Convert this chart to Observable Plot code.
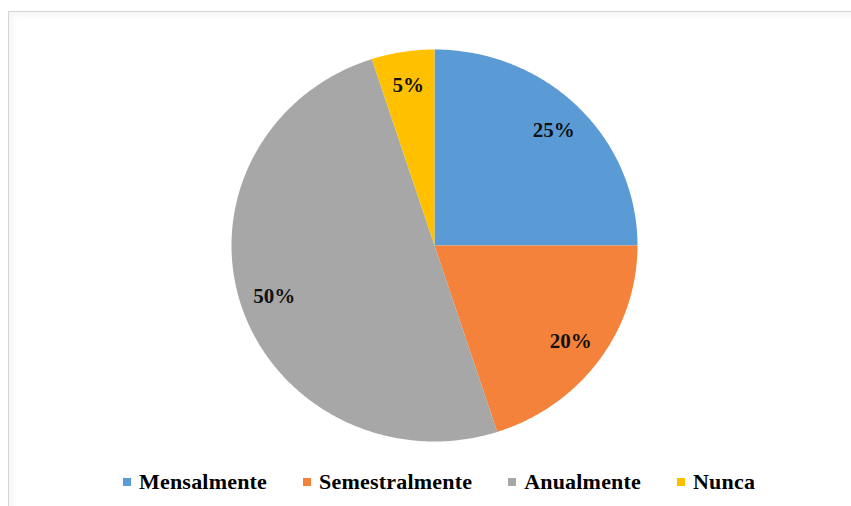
<!DOCTYPE html>
<html><head><meta charset="utf-8">
<script src="https://cdn.jsdelivr.net/npm/d3@7"></script>
<script src="https://cdn.jsdelivr.net/npm/@observablehq/plot@0.6"></script>
<style>
html,body{margin:0;padding:0;background:#fff;}
#wrap{position:relative;width:851px;height:506px;overflow:hidden;background:#fff;}
#frame{position:absolute;left:8px;top:11px;right:-20px;bottom:-20px;border-left:1px solid #d4d4d4;border-top:1px solid #d4d4d4;box-shadow:inset 4px 4px 6px rgba(0,0,0,0.04);}
#chart{position:absolute;left:0;top:0;}
#legend{position:absolute;left:123px;top:465px;}
#legend .lg-swatch{margin-right:36px !important;}
#legend .lg-swatch > svg{margin-right:8px !important;}
#legend, #legend *{font-family:"Liberation Serif","Times New Roman",serif !important;font-size:22px !important;font-weight:bold !important;color:#000 !important;letter-spacing:0.2px;}
</style></head><body>
<div id="wrap"><div id="frame"></div><div id="chart"></div><div id="legend"></div></div>
<script>
const categories = ["Mensalmente","Semestralmente","Anualmente","Nunca"];
const percentages = [25,20,50,5];
const colors = ["#5B9BD5","#F4823A","#A7A7A7","#FFC000"];

const rows = categories.map((c,i)=>({cat:c, value:percentages[i]}));
const arcs = d3.pie().sort(null).value(d=>d.value)(rows);

const pts = [];
arcs.forEach(a=>{
  const cat = a.data.cat;
  pts.push({cat, x:0, y:0});
  const n = Math.max(2, Math.ceil((a.endAngle-a.startAngle)/(Math.PI/360)));
  for(let k=0;k<=n;k++){
    const t = a.startAngle + (a.endAngle-a.startAngle)*k/n;
    pts.push({cat, x:Math.sin(t), y:-Math.cos(t)});
  }
  pts.push({cat, x:0, y:0});
});
const labelR = 0.83;
const labels = arcs.map(a=>{
  const m=(a.startAngle+a.endAngle)/2;
  return {cat:a.data.cat, x:labelR*Math.sin(m), y:-labelR*Math.cos(m), text:a.data.value+"%"};
});

const plot = Plot.plot({
  width:851, height:464,
  margin:0,
  style:{background:"transparent"},
  x:{domain:[-1,1], range:[231,637], axis:null},
  y:{domain:[-1,1], range:[49,441], axis:null},
  color:{type:"ordinal", domain:categories, range:colors},
  marks:[
    Plot.line(pts,{x:"x", y:"y", z:"cat", fill:"cat", stroke:"none", curve:"linear"}),
    Plot.text(labels,{x:"x", y:"y", text:"text", fill:"#111", fontSize:21, fontWeight:"bold", fontFamily:"Liberation Serif, Times New Roman, serif", letterSpacing:-1})
  ]
});
document.getElementById("chart").appendChild(plot);
const lg = plot.legend("color",{className:"lg", swatchSize:8});
document.getElementById("legend").appendChild(lg);
</script>
</body></html>
